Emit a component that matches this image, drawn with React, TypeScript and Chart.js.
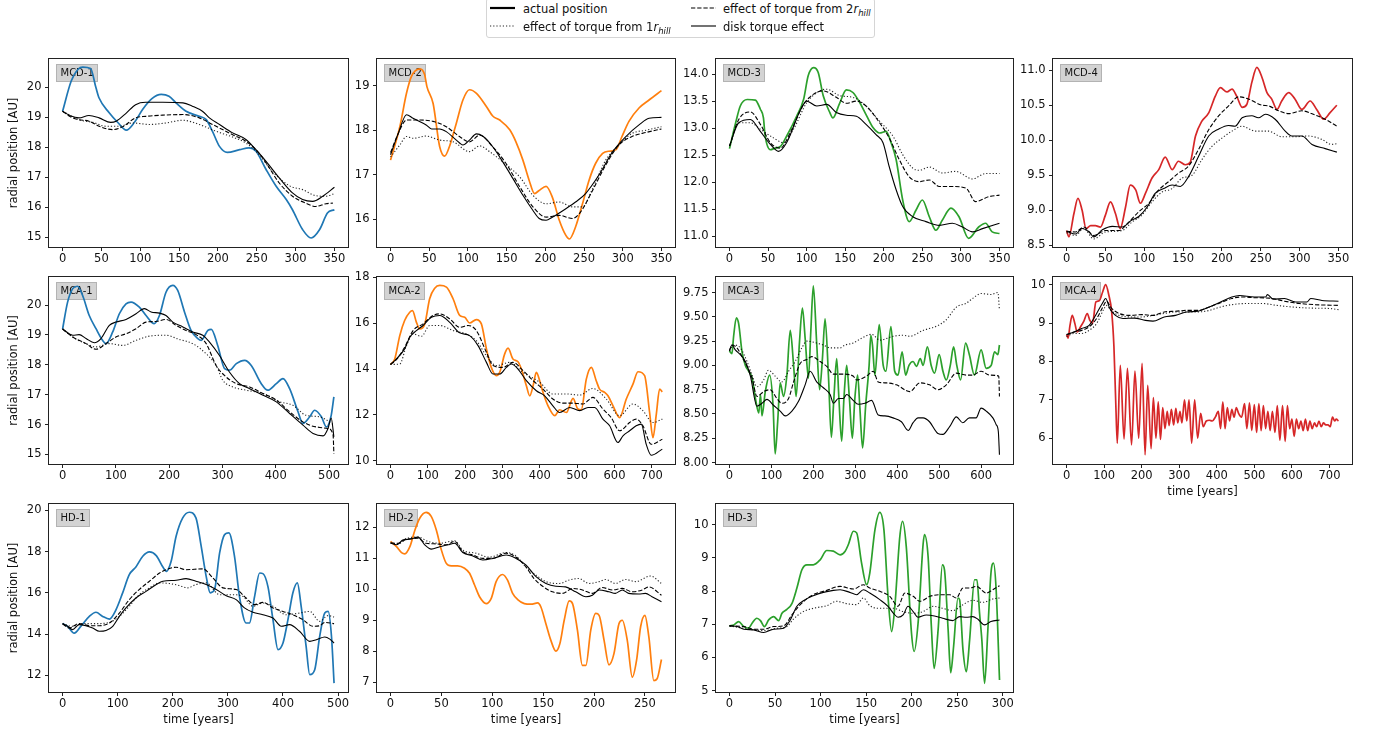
import React, { useEffect, useRef } from "react";
import { Chart, registerables } from "chart.js";
Chart.register(...registerables);

type Pt = [number, number];

const BLUE = "#1f77b4";
const ORANGE = "#ff7f0e";
const GREEN = "#2ca02c";
const RED = "#d62728";

// ---------------- tick labels ----------------
const X_TICKS_350 = [0, 50, 100, 150, 200, 250, 300, 350];
const X_TICKS_500 = [0, 100, 200, 300, 400, 500];
const X_TICKS_600 = [0, 100, 200, 300, 400, 500, 600];
const X_TICKS_700 = [0, 100, 200, 300, 400, 500, 600, 700];
const X_TICKS_250 = [0, 50, 100, 150, 200, 250];
const X_TICKS_300 = [0, 50, 100, 150, 200, 250, 300];

const Y_TICKS_MCD1 = [15, 16, 17, 18, 19, 20];
const Y_TICKS_MCD2 = [16, 17, 18, 19];
const Y_TICKS_MCD3 = [11, 11.5, 12, 12.5, 13, 13.5, 14];
const Y_TICKS_MCD4 = [8.5, 9, 9.5, 10, 10.5, 11];
const Y_TICKS_MCA1 = [15, 16, 17, 18, 19, 20];
const Y_TICKS_MCA2 = [10, 12, 14, 16, 18];
const Y_TICKS_MCA3 = [8, 8.25, 8.5, 8.75, 9, 9.25, 9.5, 9.75];
const Y_TICKS_MCA4 = [6, 7, 8, 9, 10];
const Y_TICKS_HD1 = [12, 14, 16, 18, 20];
const Y_TICKS_HD2 = [7, 8, 9, 10, 11, 12];
const Y_TICKS_HD3 = [5, 6, 7, 8, 9, 10];

// ---------------- MCD-1 ----------------
const MCD1_ACTUAL: Pt[] = [[0,19.2],[11,20.2],[20,20.6],[26,20.67],[36,20.62],[43,19.98],[47,19.64],[60,19.15],[72,18.8],[82,18.57],[93,18.85],[103,19.26],[115,19.62],[127,19.76],[137,19.7],[146,19.48],[159,19.2],[176,19.03],[185,18.92],[193,18.53],[202,18.03],[212,17.83],[228,17.92],[240,17.98],[249,17.87],[262,17.26],[275,16.7],[288,16.26],[296,15.92],[309,15.26],[320,14.98],[331,15.26],[341,15.81],[350,15.92]];
const MCD1_R1: Pt[] = [[0,19.2],[21,18.92],[39,18.83],[56,18.7],[73,18.7],[90,18.81],[112,18.76],[133,18.81],[155,18.9],[176,18.76],[198,18.53],[219,18.34],[236,18.14],[253,17.76],[270,17.2],[292,16.72],[309,16.59],[326,16.39],[339,16.37],[350,16.46]];
const MCD1_R2: Pt[] = [[0,19.2],[10,19.02],[21,18.92],[34,18.87],[47,18.7],[64,18.59],[77,18.68],[94,18.98],[107,19.03],[129,19.07],[155,19.09],[176,18.98],[193,18.76],[219,18.42],[236,18.2],[249,17.92],[262,17.48],[279,16.81],[296,16.37],[313,16.14],[326,16.03],[339,16.12],[348,16.14]];
const MCD1_DISK: Pt[] = [[0,19.2],[10,19.05],[21,18.98],[34,19.06],[47,18.98],[62,18.83],[69,18.87],[82,19.14],[94,19.42],[107,19.5],[129,19.5],[155,19.48],[167,19.37],[180,19.2],[189,18.98],[202,18.76],[219,18.48],[236,18.26],[249,17.92],[262,17.53],[279,16.98],[296,16.48],[309,16.26],[322,16.2],[335,16.37],[350,16.67]];

// ---------------- MCD-2 ----------------
const MCD2_ACTUAL: Pt[] = [[0,17.33],[12,18.08],[20.6,18.83],[27,19.21],[38,19.38],[44,19.25],[47,18.98],[55,18.6],[63.5,17.63],[70,17.42],[76,17.63],[85,18.16],[93.5,18.68],[102,18.91],[111,18.83],[124,18.53],[132,18.32],[141,18.23],[154,18.01],[162,17.74],[171,17.33],[179,16.88],[186,16.58],[192,16.65],[201,16.74],[209,16.5],[218,15.98],[226.5,15.64],[231,15.56],[239,15.83],[248,16.35],[256.5,16.88],[265,17.26],[274,17.48],[282,17.53],[291,17.56],[299,17.86],[308,18.2],[321,18.5],[334,18.68],[350,18.89]];
const MCD2_R1: Pt[] = [[0,17.4],[12,17.67],[20.6,17.86],[29,17.82],[46,17.87],[63.5,17.78],[81,17.74],[102,17.52],[115,17.65],[128,17.52],[145,17.29],[167,16.95],[184,16.54],[201,16.35],[218,16.39],[235,16.28],[248,16.28],[261,16.69],[278,17.33],[295,17.67],[312,17.93],[330,18.0],[350,18.08]];
const MCD2_R2: Pt[] = [[0,17.5],[10,17.93],[20.6,18.23],[38,18.23],[55,18.2],[72,18.08],[89,17.86],[102,17.74],[115,17.89],[132,17.63],[149,17.26],[167,16.73],[184,16.28],[201,16.05],[218,16.09],[235,16.02],[244,16.13],[261,16.65],[278,17.22],[295,17.67],[312,17.86],[330,17.95],[350,18.03]];
const MCD2_DISK: Pt[] = [[0,17.45],[10,17.93],[20.6,18.35],[29,18.27],[46,18.12],[53,18.03],[63.5,18.03],[72,17.97],[85,17.78],[93.5,17.67],[102,17.78],[111,17.92],[119,17.87],[132,17.63],[145,17.29],[158,16.92],[171,16.54],[184,16.2],[192,16.02],[201,15.98],[209,16.05],[226.5,16.24],[239,16.39],[252,16.58],[269,16.99],[287,17.52],[304,17.86],[321,18.12],[334,18.27],[350,18.29]];

// ---------------- MCD-3 ----------------
const MCD3_ACTUAL: Pt[] = [[0,12.62],[8,13.1],[14,13.41],[23,13.53],[33.5,13.52],[40,13.35],[44,13.19],[46,12.88],[53,12.6],[59,12.63],[66,12.66],[74,12.85],[87,13.22],[96,13.53],[102,13.97],[109,14.12],[115,14.03],[121.5,13.6],[130,13.29],[134,13.19],[143,13.47],[151.5,13.71],[160,13.66],[169,13.47],[177,13.25],[186,13.01],[194.5,12.91],[203,12.94],[209.5,12.73],[216,12.42],[224.5,11.67],[233,11.27],[241.7,11.48],[250,11.67],[259,11.36],[267.5,11.11],[276,11.3],[287,11.52],[297.5,11.36],[310,10.96],[323,11.17],[332,11.24],[340.5,11.08],[350,11.05]];
const MCD3_R1: Pt[] = [[0,12.67],[12,13.1],[27,13.1],[40,12.98],[57,12.82],[70,12.73],[83,12.98],[100,13.47],[117,13.69],[126,13.72],[143,13.6],[160,13.57],[177,13.41],[194.5,13.13],[212,12.85],[224.5,12.51],[237.5,12.26],[246,12.22],[259,12.28],[276,12.17],[293,12.2],[315,12.06],[332,12.16],[350,12.16]];
const MCD3_R2: Pt[] = [[0,12.67],[12,13.16],[27,13.3],[40,13.07],[53,12.73],[66,12.63],[78.5,12.91],[96,13.44],[109,13.63],[121.5,13.69],[138.5,13.57],[151.5,13.46],[164.5,13.5],[177,13.41],[194.5,13.1],[207,12.82],[220,12.42],[233,12.1],[246,12.01],[259,12.04],[272,11.92],[289,11.92],[306.5,11.89],[319,11.64],[336,11.73],[350,11.76]];
const MCD3_DISK: Pt[] = [[0,12.67],[12,13.1],[27,13.16],[40,12.94],[53,12.7],[63.5,12.57],[74,12.73],[91.5,13.32],[100,13.5],[113,13.41],[126,13.44],[138.5,13.29],[151.5,13.24],[164.5,13.22],[177,13.07],[190,12.88],[199,12.73],[207,12.29],[216,11.86],[224.5,11.55],[237.5,11.36],[254.6,11.27],[272,11.2],[289,11.24],[302,11.17],[315,11.08],[328,11.14],[350,11.24]];

// ---------------- MCD-4 ----------------
const MCD4_ACTUAL: Pt[] = [[0,8.71],[3,8.62],[9.4,8.95],[14.6,9.17],[20,9.0],[25,8.74],[31,8.78],[37,8.78],[43.7,8.76],[50,8.93],[56.5,9.12],[63,8.95],[69,8.74],[76,9.05],[82,9.36],[89,9.29],[95,9.1],[101.5,9.24],[110,9.46],[118.7,9.58],[127,9.76],[136,9.58],[144,9.7],[153,9.65],[159,9.68],[166,10.06],[174,10.27],[183,10.39],[191.5,10.63],[198,10.75],[206.5,10.69],[213,10.73],[219,10.63],[226,10.47],[232,10.51],[238.6,10.83],[245,11.04],[251.5,10.9],[258,10.68],[264,10.59],[271,10.44],[277,10.56],[286,10.68],[294,10.59],[303,10.44],[313.6,10.56],[322,10.44],[331,10.3],[339,10.39],[348,10.5]];
const MCD4_R1: Pt[] = [[0,8.68],[11.6,8.64],[22,8.74],[35,8.59],[50,8.69],[71.5,8.71],[84,8.83],[97,8.93],[110,9.12],[123,9.26],[136,9.31],[148.7,9.46],[161.5,9.5],[174,9.72],[187,9.91],[200,10.03],[213,10.13],[226,10.2],[243,10.13],[260,10.13],[277,10.05],[294,10.05],[311.6,10.06],[329,10.01],[341,9.94],[348,9.95]];
const MCD4_R2: Pt[] = [[0,8.7],[11.6,8.69],[22,8.76],[35,8.64],[50,8.71],[67,8.71],[80,8.83],[93,8.98],[106,9.1],[118.7,9.29],[131.5,9.41],[144,9.53],[157,9.63],[170,9.87],[183,10.15],[196,10.35],[208.6,10.49],[221.5,10.62],[234,10.59],[251.5,10.5],[260,10.49],[273,10.42],[286,10.38],[303,10.42],[320,10.36],[333,10.3],[348,10.2]];
const MCD4_DISK: Pt[] = [[0,8.7],[11.6,8.66],[20,8.74],[29,8.69],[35,8.62],[46,8.72],[59,8.77],[71.5,8.76],[84,8.86],[93,8.91],[104,9.05],[114,9.24],[125,9.31],[136,9.36],[146.5,9.34],[157,9.48],[170,9.77],[183,10.06],[196,10.16],[208.6,10.21],[217,10.2],[226,10.32],[238.6,10.35],[247,10.32],[256,10.37],[268.5,10.3],[281.5,10.13],[290,10.06],[303,10.06],[316,9.94],[333,9.88],[348,9.83]];

// ---------------- MCA-1 ----------------
const MCA1_ACTUAL: Pt[] = [[0,19.2],[9.4,20.1],[19,20.55],[28,20.63],[37.6,20.32],[50,19.65],[62.7,19.21],[75,18.82],[81.5,18.71],[94,19.1],[106.5,19.71],[119,20.04],[128.4,20.1],[144,19.93],[156.6,19.65],[172,19.38],[181.7,19.65],[194,20.43],[206.8,20.66],[216,20.49],[228.7,19.77],[241,19.15],[253.8,18.88],[260,18.82],[272.6,19.15],[279,19.19],[291,18.65],[304,17.87],[313,17.82],[326,18.04],[341.5,18.15],[354,17.98],[372.8,17.37],[385,17.15],[401,17.37],[413.5,17.54],[426,17.2],[441.7,16.43],[451,16.04],[463.7,16.26],[473,16.48],[485.6,16.26],[495,15.92],[504,16.31],[509,16.93]];
const MCA1_R1: Pt[] = [[0,19.2],[19,18.93],[44,18.71],[62.7,18.6],[87.7,18.71],[112.8,18.65],[137.8,18.82],[163,18.96],[194,18.99],[219,18.85],[244,18.71],[269.4,18.37],[288,17.98],[300.7,17.48],[319.5,17.26],[344.6,17.15],[376,17.04],[407.5,16.76],[432,16.65],[457,16.31],[482,16.26],[501,16.09],[509,15.98]];
const MCA1_R2: Pt[] = [[0,19.2],[19,18.93],[44,18.71],[62.7,18.52],[81.5,18.71],[100,18.93],[119,19.04],[137.8,19.21],[156.6,19.43],[175,19.45],[194,19.52],[213,19.32],[231.8,19.15],[250.6,19.01],[269.4,18.71],[288,17.98],[307,17.59],[326,17.37],[351,17.26],[376,17.04],[401,16.82],[426,16.43],[451,16.09],[476,15.92],[498,15.87],[507.5,15.65],[509,15.03]];
const MCA1_DISK: Pt[] = [[0,19.2],[19,18.99],[31,19.01],[44,18.88],[59.5,18.74],[72,18.88],[87.7,19.32],[100,19.43],[119,19.52],[137.8,19.71],[153.5,19.88],[166,19.77],[181.7,19.73],[194,19.65],[206.8,19.43],[225.6,19.27],[244,19.1],[263,18.99],[275.7,18.76],[294,18.32],[313,17.76],[332,17.37],[351,17.2],[376,16.98],[401,16.76],[426,16.37],[451,15.98],[470,15.7],[488.7,15.62],[498,15.87],[504,16.22],[509,15.59]];

// ---------------- MCA-2 ----------------
const MCA2_ACTUAL: Pt[] = [[0,14.2],[11.6,14.44],[25,15.46],[38,16.12],[51.7,16.48],[59,16.55],[69.6,16.04],[78.5,15.75],[92,15.97],[105,17.07],[118.6,17.53],[132,17.65],[150,17.58],[167.7,17.07],[185.5,16.34],[199,16.26],[212,16.01],[230,16.16],[243.5,15.97],[257,14.88],[270,14.07],[283.7,13.71],[292.6,13.85],[306,14.66],[315,14.91],[328,14.44],[341.6,14.32],[350.6,14.0],[364,13.27],[373,12.83],[382,13.27],[390.7,13.85],[399.6,13.49],[408.5,12.98],[422,12.39],[440,11.96],[453,12.22],[471,12.1],[489,12.72],[502,12.25],[511,12.22],[524.5,13.56],[538,14.07],[551,13.49],[560,13.12],[573.6,12.98],[582.5,12.83],[596,12.39],[613.7,11.88],[631.6,12.69],[649.4,13.34],[662.8,13.88],[680.6,13.71],[694,12.1],[703,11.0],[712,12.03],[720.8,13.12],[728,13.0]];
const MCA2_R1: Pt[] = [[0,14.2],[25,14.22],[42.8,15.02],[60.6,15.53],[83,15.43],[105,15.9],[132,15.9],[167.7,15.68],[203,15.53],[230,15.24],[257,14.58],[283.7,14.15],[319,14.29],[355,13.85],[399.6,13.42],[435,12.91],[471,12.91],[506.7,12.86],[542,13.15],[578,12.69],[613.7,11.96],[649.4,12.47],[676,12.18],[703,11.66],[728,11.81]];
const MCA2_R2: Pt[] = [[0,14.2],[16,14.41],[38,14.95],[60.6,15.68],[87.4,15.97],[114,16.34],[132,16.41],[158.8,16.19],[185.5,15.82],[207.8,15.9],[230,15.68],[257,14.73],[274.7,14.15],[301.5,14.07],[328,14.29],[355,13.93],[382,13.49],[408.5,13.12],[435,12.69],[462,12.51],[489,12.51],[515.6,12.47],[542,12.76],[569,12.25],[591,11.88],[613.7,11.3],[640.5,11.66],[658,11.81],[676,11.52],[698.5,10.71],[728,10.93]];
const MCA2_DISK: Pt[] = [[0,14.2],[16,14.44],[38,14.88],[51.7,15.39],[69.6,15.68],[87.4,15.9],[109.7,16.26],[132,16.34],[158.8,16.04],[185.5,15.58],[212,15.46],[234.6,15.02],[257,14.29],[274.7,13.78],[292.6,13.78],[310.4,14.07],[323.8,14.22],[341.6,14.0],[364,13.49],[390.7,13.05],[413,12.83],[435,12.39],[453,12.1],[480,12.32],[506.7,12.18],[529,12.32],[547,12.32],[569,11.81],[587,11.52],[609,10.79],[622.7,11.08],[640.5,11.3],[658,11.52],[671.7,11.59],[685,10.71],[698.5,10.23],[728,10.5]];

// ---------------- MCA-3 ----------------
const MCA3_ACTUAL: Pt[] = [[0,9.15],[6,9.12],[10,9.3],[16.6,9.49],[22,9.43],[30,9.14],[38,9.0],[46,8.94],[54,8.87],[62,8.66],[70,8.51],[74,8.7],[77.6,8.48],[85.5,8.73],[96,8.9],[104,8.59],[109,8.09],[115,8.42],[121,8.82],[129,8.68],[137,8.9],[145,9.36],[153,9.0],[159,8.68],[167,9.24],[174,9.59],[180.5,9.28],[188.4,8.87],[194,9.35],[200,9.82],[208,9.23],[215,8.75],[221.7,9.07],[228,9.48],[236,8.9],[243,8.26],[249,8.66],[255.7,9.07],[261,8.66],[267.6,8.22],[273,8.66],[279.5,9.0],[286,8.66],[293,8.25],[299,8.66],[305.6,8.9],[311,8.56],[317.5,8.15],[325,8.6],[333,9.0],[337,9.31],[341,9.21],[346.8,8.9],[357,9.42],[366.6,9.0],[373,8.94],[385,9.4],[394,8.94],[402,8.9],[411.7,9.14],[420,8.9],[428,9.0],[437.8,9.04],[445.8,8.99],[455,9.07],[461.6,9.0],[472,9.19],[481,9.0],[489,8.92],[500,9.11],[509,8.94],[517,8.85],[526.5,9.0],[534.4,9.19],[542,9.0],[551,8.85],[563,9.23],[572,9.11],[584,8.9],[600,9.16],[612,8.97],[624,9.0],[632,9.14],[640,9.11],[643.7,9.21]];
const MCA3_R1: Pt[] = [[0,9.15],[10,9.21],[26,9.18],[42,9.04],[54,8.9],[65.7,8.78],[81.5,8.85],[93,8.95],[109,8.89],[125,8.83],[141,8.94],[156.8,9.04],[172.6,9.18],[184.5,9.25],[208,9.23],[224,9.21],[240,9.18],[263.6,9.18],[275.5,9.21],[295,9.23],[315,9.28],[339,9.32],[358.7,9.26],[390,9.3],[414,9.31],[430,9.3],[461.6,9.36],[497,9.41],[517,9.47],[541,9.6],[564.5,9.64],[580,9.69],[600,9.74],[624,9.73],[640,9.75],[643.7,9.57]];
const MCA3_R2: Pt[] = [[0,9.15],[6,9.21],[18,9.18],[30,9.09],[42,8.99],[54,8.87],[65.7,8.68],[81.5,8.73],[97,8.75],[113,8.66],[125,8.61],[141,8.66],[153,8.83],[168.6,9.02],[184.5,9.06],[196.4,9.09],[216,9.04],[232,8.99],[248,8.91],[271.6,8.91],[295,8.89],[303,8.85],[327,8.89],[343,8.94],[354.7,8.83],[374.6,8.82],[398,8.8],[430,8.73],[454,8.82],[477,8.8],[497,8.75],[517,8.8],[541,8.92],[564.5,8.9],[580,8.9],[600,8.94],[620,8.9],[642,8.89],[643.7,8.68]];
const MCA3_DISK: Pt[] = [[0,9.15],[6,9.21],[14,9.16],[26,9.11],[38,9.04],[50,8.89],[65.7,8.58],[77.6,8.61],[89.5,8.65],[105,8.59],[121,8.53],[133,8.48],[149,8.53],[164.7,8.63],[180.5,8.8],[192.4,8.94],[208,8.83],[224,8.77],[240,8.7],[248,8.61],[259.7,8.66],[271.6,8.66],[279.5,8.7],[295,8.64],[307,8.6],[323,8.61],[339,8.64],[354.7,8.49],[370.5,8.48],[390,8.46],[410,8.42],[426,8.33],[437.8,8.41],[449.7,8.46],[461.6,8.46],[477,8.42],[497,8.3],[509,8.29],[525,8.37],[541,8.47],[556,8.41],[572,8.46],[588,8.46],[600,8.56],[612,8.53],[628,8.46],[636,8.39],[641,8.32],[643.7,8.08]];

// ---------------- MCA-4 ----------------
const MCA4_ACTUAL: Pt[] = [[0,8.7],[4,8.61],[9,8.94],[15,9.2],[22,8.99],[28,8.77],[37,8.9],[46,9.05],[55,9.25],[62,9.07],[69,8.99],[78,9.55],[87,9.58],[96,9.81],[104,10.0],[112,9.75],[120,9.3],[126,8.4],[131,6.9],[135,5.87],[143,7.9],[153,5.98],[162,7.82],[173,5.83],[182,7.75],[192,6.0],[201,7.95],[209,5.57],[216,7.38],[225,5.73],[231,7.06],[238,6.0],[244,6.95],[250,5.97],[256,6.8],[262,6.25],[268,6.7],[273,6.33],[279,6.75],[285,6.35],[291,6.78],[296,6.4],[302,6.7],[307,6.4],[314,7.0],[320,6.45],[326,7.0],[333,5.87],[341,7.0],[349,6.0],[357,6.65],[364,6.3],[372,6.45],[380,6.47],[388,6.45],[396,6.55],[404,6.7],[410,6.25],[416,6.95],[422,6.25],[428,6.8],[434,6.45],[440,6.75],[446,6.55],[452,6.8],[458,6.65],[466,6.55],[474,6.9],[480,6.25],[487,6.92],[493,6.2],[500,6.88],[506,6.15],[512,6.9],[518,6.2],[524,6.85],[530,6.25],[536,6.7],[542,6.2],[548,6.7],[555,6.15],[561,6.85],[568,5.95],[575,6.85],[582,5.92],[588,6.85],[594,6.25],[600,6.5],[606,6.05],[612,6.5],[618,6.25],[624,6.45],[630,6.2],[636,6.5],[642,6.2],[648,6.45],[654,6.25],[660,6.4],[666,6.3],[672,6.45],[678,6.3],[684,6.4],[690,6.35],[696,6.35],[702,6.3],[708,6.55],[714,6.45],[718,6.5],[724,6.45]];
const MCA4_R1: Pt[] = [[0,8.65],[20,8.73],[40,8.73],[60,8.81],[80,8.99],[100,9.38],[106,9.46],[120,9.31],[140,9.2],[170,9.16],[200,9.16],[230,9.2],[260,9.25],[290,9.29],[320,9.29],[350,9.29],[380,9.33],[410,9.42],[440,9.48],[480,9.51],[520,9.51],[560,9.46],[600,9.42],[650,9.39],[700,9.38],[724,9.35]];
const MCA4_R2: Pt[] = [[0,8.7],[20,8.77],[40,8.81],[60,8.9],[80,9.12],[100,9.48],[106,9.57],[120,9.38],[140,9.25],[170,9.2],[200,9.22],[230,9.2],[260,9.29],[290,9.31],[320,9.33],[350,9.33],[380,9.42],[410,9.53],[440,9.64],[470,9.68],[500,9.66],[540,9.65],[580,9.57],[620,9.51],[660,9.48],[724,9.46]];
const MCA4_DISK: Pt[] = [[0,8.7],[20,8.77],[40,8.86],[60,8.94],[80,9.25],[95,9.51],[104,9.64],[115,9.38],[130,9.2],[150,9.12],[180,9.13],[210,9.07],[230,9.05],[260,9.16],[290,9.2],[320,9.29],[350,9.31],[380,9.42],[410,9.55],[440,9.68],[460,9.72],[500,9.68],[530,9.68],[535,9.74],[550,9.62],[580,9.64],[610,9.55],[640,9.55],[650,9.64],[680,9.59],[724,9.57]];

// ---------------- HD-1 ----------------
const HD1_ACTUAL: Pt[] = [[0,14.51],[9,14.38],[21,14.05],[33,14.38],[48.5,14.86],[60.6,15.06],[72.7,14.86],[85,14.73],[97,15.19],[109,16.0],[121,16.88],[133,17.25],[145.5,17.77],[157.6,17.98],[170,17.8],[182,17.25],[188,17.04],[197,17.53],[206,18.74],[218,19.63],[230,19.9],[242,19.63],[251.5,18.26],[260.6,16.8],[268,16.0],[275.8,16.16],[285,17.93],[294,18.82],[301.8,18.9],[312,17.77],[321,15.83],[333,14.54],[339,14.54],[348.5,15.83],[357.6,16.96],[363.6,16.93],[372.7,16.3],[381.8,14.7],[391,13.25],[400,13.57],[409,14.7],[418,16.0],[426,16.48],[433,15.35],[442,13.41],[448.5,12.04],[457.6,12.28],[466.7,13.9],[475.8,15.02],[482,15.1],[488,13.9],[492.7,11.63]];
const HD1_R1: Pt[] = [[0,14.5],[18,14.38],[36,14.51],[60.6,14.51],[85,14.57],[103,14.86],[121,15.35],[139,15.91],[157.6,16.24],[176,16.48],[194,16.45],[212,16.35],[227,16.24],[242,16.4],[260.6,16.48],[285,15.91],[309,15.91],[327,15.83],[345.5,15.35],[363.6,15.51],[381.8,15.35],[406,14.94],[430,15.02],[448.5,15.1],[466.7,14.62],[482,14.9],[492.7,14.83]];
const HD1_R2: Pt[] = [[0,14.5],[12,14.3],[30,14.51],[48.5,14.41],[66.7,14.41],[85,14.54],[103,15.02],[121,15.67],[139,16.16],[157.6,16.56],[176,16.96],[188,17.12],[206,17.24],[224,17.12],[254.5,17.16],[272.7,16.72],[291,16.24],[315,16.16],[333,15.75],[348.5,15.43],[363.6,15.54],[381.8,15.27],[400,15.1],[418,14.94],[436,14.7],[454.5,14.38],[466.7,14.41],[475.8,14.57],[492.7,14.51]];
const HD1_DISK: Pt[] = [[0,14.5],[9,14.38],[18,14.22],[30,14.46],[42,14.41],[54.5,14.3],[66.7,14.14],[78.8,14.18],[91,14.38],[103,14.86],[115,15.27],[133,15.75],[151.5,16.07],[170,16.4],[182,16.56],[206,16.61],[224,16.69],[242,16.56],[260.6,16.4],[278.8,16.16],[297,15.86],[315,15.67],[330,15.27],[345.5,15.06],[363.6,14.94],[381.8,14.78],[397,14.38],[412,14.46],[430,14.14],[448.5,13.65],[460.6,13.73],[475.8,13.86],[485,13.76],[492.7,13.57]];

// ---------------- HD-2 ----------------
const HD2_ACTUAL: Pt[] = [[0,11.55],[5.9,11.38],[10.8,11.19],[14,11.15],[19,11.38],[24,11.92],[28.7,12.3],[35,12.49],[40,12.36],[45,11.92],[50,11.27],[54.8,10.84],[59.7,10.76],[66,10.76],[72.8,10.68],[77.7,10.52],[82.6,10.14],[87.5,9.76],[94,9.54],[99,9.71],[103.8,10.25],[110,10.48],[115,10.3],[120,9.87],[125,9.67],[131.5,9.54],[138,9.52],[144.6,9.56],[147.8,9.43],[152.7,8.89],[157.6,8.35],[162.5,8.0],[166.4,8.24],[170.7,9.0],[175.6,9.63],[178.9,9.54],[183.7,8.68],[188.6,7.54],[192,7.54],[196.8,8.68],[201.7,9.22],[205,9.16],[209.9,8.35],[214.7,7.56],[219.6,7.92],[224.5,8.89],[227.8,9.0],[232.7,8.35],[237.6,7.16],[241.8,7.7],[245.8,8.79],[250,9.16],[253.9,8.46],[258.8,7.05],[262,7.11],[266.3,7.73]];
const HD2_R1: Pt[] = [[0,11.5],[7.5,11.47],[15.7,11.65],[27,11.69],[37,11.55],[48.3,11.49],[63,11.57],[71,11.27],[84,11.17],[97,11.04],[113.6,11.19],[123.4,11.08],[133,10.73],[143,10.46],[152.7,10.25],[166,10.19],[175.6,10.3],[185,10.35],[195,10.19],[205,10.25],[211.5,10.32],[221,10.19],[231,10.32],[241,10.25],[255.5,10.43],[266.3,10.19]];
const HD2_R2: Pt[] = [[0,11.5],[7.5,11.49],[15.7,11.62],[27,11.65],[35,11.49],[45,11.47],[54.8,11.44],[63,11.55],[71,11.22],[81,11.11],[90.7,11.0],[100.5,11.0],[113.6,11.17],[123.4,11.04],[133,10.73],[141,10.35],[149.5,10.1],[159,9.92],[169,9.87],[179,10.03],[188.6,9.98],[198.4,9.87],[208,10.06],[218,9.98],[227.8,10.03],[237.6,9.92],[247.4,9.98],[254,10.08],[266.3,9.81]];
const HD2_DISK: Pt[] = [[0,11.5],[5.9,11.44],[12.4,11.6],[19,11.62],[27,11.69],[33.6,11.44],[40,11.3],[48.3,11.38],[56.5,11.44],[63,11.49],[71,11.19],[81,11.08],[90.7,10.95],[100.5,11.0],[113.6,11.11],[123.4,11.0],[133,10.79],[143,10.41],[152.7,10.19],[162.5,10.1],[172,10.08],[182,9.92],[192,9.76],[198.4,9.81],[205,9.98],[214.7,9.92],[221,9.87],[227.8,9.98],[234,9.87],[244,9.85],[250.6,9.87],[257,9.76],[266.3,9.6]];

// ---------------- HD-3 ----------------
const HD3_ACTUAL: Pt[] = [[0,6.95],[4.7,6.98],[10,7.08],[15.7,6.93],[21,6.88],[24.8,7.03],[30,7.18],[34,7.11],[38.3,6.93],[43,7.13],[48.5,7.23],[54,7.11],[57.6,7.33],[63,7.45],[68.5,7.62],[74,8.09],[79.5,8.64],[85,8.79],[92,8.79],[99.5,8.94],[106.8,9.22],[114,9.2],[121.4,9.09],[127,9.2],[130.5,9.4],[136,9.8],[139.6,9.75],[145,8.84],[150.6,8.19],[154,8.54],[159.7,9.85],[165,10.37],[169.5,9.85],[174,7.84],[178,6.78],[181.5,7.54],[187,9.65],[190,10.1],[194,9.35],[199.8,6.73],[202.7,6.18],[207,7.03],[212.5,9.4],[214,9.7],[218,9.04],[221.6,6.93],[224.6,5.67],[229,6.83],[233.7,8.79],[236,8.64],[240,6.83],[242.8,5.54],[246,6.33],[250.8,7.79],[252.6,7.74],[256.3,6.23],[260,5.57],[263.6,6.53],[269,8.34],[271.6,8.34],[274.5,7.33],[277,6.53],[280,5.22],[283.6,6.83],[287,8.54],[289.8,8.84],[292.7,8.04],[296.4,5.32]];
const HD3_R1: Pt[] = [[0,6.95],[15.7,6.88],[26.6,6.83],[37.5,6.81],[52,6.88],[63,6.93],[70,7.15],[81,7.38],[92,7.48],[106.8,7.56],[117.8,7.69],[128.7,7.62],[139.6,7.59],[147,7.79],[154,7.56],[165,7.48],[180,7.48],[190.6,7.38],[201.6,7.33],[212.5,7.38],[223.5,7.54],[234,7.48],[245,7.41],[256.3,7.59],[267,7.72],[278,7.66],[289,7.76],[296.4,7.79]];
const HD3_R2: Pt[] = [[0,6.95],[15.7,6.93],[26.6,6.85],[37.5,6.85],[48.5,6.93],[59.4,6.95],[68.5,7.28],[77.7,7.59],[92,7.89],[106.8,8.02],[121.4,8.14],[136,8.06],[147,8.19],[154,8.09],[165,7.99],[176,7.84],[185,7.54],[192.5,7.94],[201.6,7.84],[209,7.69],[220,7.84],[230.8,7.89],[241.7,7.89],[249,7.79],[256.3,8.09],[263.6,8.09],[271,8.14],[281.8,7.94],[289,8.04],[296.4,8.16]];
const HD3_DISK: Pt[] = [[0,6.95],[8.4,6.93],[15.7,6.85],[26.6,6.83],[37.5,6.75],[48.5,6.85],[59.4,6.88],[66.7,7.13],[74,7.54],[83,7.74],[92,7.86],[103,7.96],[114,8.02],[121.4,8.04],[132,7.96],[139.6,7.89],[147,8.04],[154,7.94],[165,7.74],[174,7.54],[180,7.33],[185,7.21],[190.6,7.28],[196,7.54],[201.6,7.38],[207,7.21],[216,7.28],[225,7.25],[234,7.18],[245,7.11],[252.6,7.23],[260,7.21],[267,7.23],[272.7,7.15],[280,6.98],[287,7.08],[296.4,7.13]];

// ---------------- layout (box geometry in page pixels) ----------------
const COLS = [
  { l: 49, w: 299 },
  { l: 377, w: 298 },
  { l: 716, w: 297 },
  { l: 1053, w: 299 },
];
const ROWS = [
  { t: 59, h: 188 },
  { t: 277, h: 187 },
  { t: 504, h: 188 },
];
const PADL = 42;
const PADT = 8;
const PADR = 14;

const FONT = "'DejaVu Sans', sans-serif";
const FS = 11.5;
const LABEL_FS = 10;
const TXT = "#111111";

interface Panel {
  name: string;
  col: number;
  row: number;
  color: string;
  xr: [number, number];
  xt: number[];
  yr: [number, number];
  yt: number[];
  yd: number;
  xTitle: boolean;
  yTitle: boolean;
  actual: Pt[];
  r1: Pt[];
  r2: Pt[];
  disk: Pt[];
}

const PANELS: Panel[] = [
  { name: "MCD-1", col: 0, row: 0, color: BLUE, xr: [-17.5, 367.5], xt: X_TICKS_350, yr: [14.68, 20.94], yt: Y_TICKS_MCD1, yd: 0, xTitle: false, yTitle: true, actual: MCD1_ACTUAL, r1: MCD1_R1, r2: MCD1_R2, disk: MCD1_DISK },
  { name: "MCD-2", col: 1, row: 0, color: ORANGE, xr: [-17.5, 367.5], xt: X_TICKS_350, yr: [15.38, 19.6], yt: Y_TICKS_MCD2, yd: 0, xTitle: false, yTitle: false, actual: MCD2_ACTUAL, r1: MCD2_R1, r2: MCD2_R2, disk: MCD2_DISK },
  { name: "MCD-3", col: 2, row: 0, color: GREEN, xr: [-17.5, 367.5], xt: X_TICKS_350, yr: [10.8, 14.28], yt: Y_TICKS_MCD3, yd: 1, xTitle: false, yTitle: false, actual: MCD3_ACTUAL, r1: MCD3_R1, r2: MCD3_R2, disk: MCD3_DISK },
  { name: "MCD-4", col: 3, row: 0, color: RED, xr: [-17.5, 367.5], xt: X_TICKS_350, yr: [8.475, 11.16], yt: Y_TICKS_MCD4, yd: 1, xTitle: false, yTitle: false, actual: MCD4_ACTUAL, r1: MCD4_R1, r2: MCD4_R2, disk: MCD4_DISK },
  { name: "MCA-1", col: 0, row: 1, color: BLUE, xr: [-25.5, 535.5], xt: X_TICKS_500, yr: [14.68, 20.94], yt: Y_TICKS_MCA1, yd: 0, xTitle: false, yTitle: true, actual: MCA1_ACTUAL, r1: MCA1_R1, r2: MCA1_R2, disk: MCA1_DISK },
  { name: "MCA-2", col: 1, row: 1, color: ORANGE, xr: [-36, 762], xt: X_TICKS_700, yr: [9.85, 18.02], yt: Y_TICKS_MCA2, yd: 0, xTitle: false, yTitle: false, actual: MCA2_ACTUAL, r1: MCA2_R1, r2: MCA2_R2, disk: MCA2_DISK },
  { name: "MCA-3", col: 2, row: 1, color: GREEN, xr: [-32, 676], xt: X_TICKS_600, yr: [7.985, 9.91], yt: Y_TICKS_MCA3, yd: 2, xTitle: false, yTitle: false, actual: MCA3_ACTUAL, r1: MCA3_R1, r2: MCA3_R2, disk: MCA3_DISK },
  { name: "MCA-4", col: 3, row: 1, color: RED, xr: [-36.2, 760], xt: X_TICKS_700, yr: [5.33, 10.2], yt: Y_TICKS_MCA4, yd: 0, xTitle: true, yTitle: false, actual: MCA4_ACTUAL, r1: MCA4_R1, r2: MCA4_R2, disk: MCA4_DISK },
  { name: "HD-1", col: 0, row: 2, color: BLUE, xr: [-24.7, 518], xt: X_TICKS_500, yr: [11.2, 20.3], yt: Y_TICKS_HD1, yd: 0, xTitle: true, yTitle: true, actual: HD1_ACTUAL, r1: HD1_R1, r2: HD1_R2, disk: HD1_DISK },
  { name: "HD-2", col: 1, row: 2, color: ORANGE, xr: [-13.3, 279.6], xt: X_TICKS_250, yr: [6.68, 12.76], yt: Y_TICKS_HD2, yd: 0, xTitle: true, yTitle: false, actual: HD2_ACTUAL, r1: HD2_R1, r2: HD2_R2, disk: HD2_DISK },
  { name: "HD-3", col: 2, row: 2, color: GREEN, xr: [-14.8, 311.2], xt: X_TICKS_300, yr: [4.96, 10.62], yt: Y_TICKS_HD3, yd: 0, xTitle: true, yTitle: false, actual: HD3_ACTUAL, r1: HD3_R1, r2: HD3_R2, disk: HD3_DISK },
];

const toXY = (pts: Pt[]) => pts.map(([x, y]) => ({ x, y }));

const framePlugin = {
  id: "panelFrame",
  beforeDatasetsDraw(chart: any, _args: any, opts: any) {
    const { ctx, chartArea } = chart;
    const label: string = opts.label || "";
    ctx.save();
    ctx.font = `${LABEL_FS}px ${FONT}`;
    const tw = ctx.measureText(label).width;
    const bx = Math.round(chartArea.left + 7) + 0.5;
    const by = Math.round(chartArea.top + 5) + 0.5;
    const bw = Math.round(tw + 8);
    const bh = 17;
    ctx.fillStyle = "#d3d3d3";
    ctx.fillRect(bx, by, bw, bh);
    ctx.strokeStyle = "#b3b3b3";
    ctx.lineWidth = 1;
    ctx.strokeRect(bx, by, bw, bh);
    ctx.fillStyle = TXT;
    ctx.textBaseline = "middle";
    ctx.textAlign = "left";
    ctx.fillText(label, bx + 4, by + bh / 2 + 0.5);
    ctx.restore();
  },
  afterDraw(chart: any) {
    const { ctx, chartArea } = chart;
    ctx.save();
    ctx.strokeStyle = "#222222";
    ctx.lineWidth = 1;
    ctx.strokeRect(
      chartArea.left - 0.5,
      chartArea.top - 0.5,
      chartArea.right - chartArea.left + 1,
      chartArea.bottom - chartArea.top + 1
    );
    ctx.restore();
  },
};

function PanelChart({ p }: { p: Panel }) {
  const ref = useRef<HTMLCanvasElement>(null);
  const col = COLS[p.col];
  const row = ROWS[p.row];
  const padB = p.xTitle ? 35 : 30;
  const cw = PADL + col.w + PADR;
  const chh = PADT + row.h + padB;

  useEffect(() => {
    const font = { family: FONT, size: FS };
    const gridCfg = {
      drawOnChartArea: false,
      drawTicks: true,
      tickLength: 4,
      color: "#222222",
      lineWidth: 1,
    };
    const chart = new Chart(ref.current as HTMLCanvasElement, {
      type: "line",
      data: {
        datasets: [
          {
            label: "actual position",
            data: toXY(p.actual),
            borderColor: p.color,
            borderWidth: 1.7,
            pointRadius: 0,
            cubicInterpolationMode: "monotone",
            fill: false,
            order: 4,
          },
          {
            label: "effect of torque from 1r_hill",
            data: toXY(p.r1),
            borderColor: "rgba(0,0,0,0.85)",
            borderWidth: 1.1,
            borderDash: [1.2, 2],
            pointRadius: 0,
            cubicInterpolationMode: "monotone",
            fill: false,
            order: 3,
          },
          {
            label: "effect of torque from 2r_hill",
            data: toXY(p.r2),
            borderColor: "#000000",
            borderWidth: 1.1,
            borderDash: [4.3, 1.9],
            pointRadius: 0,
            cubicInterpolationMode: "monotone",
            fill: false,
            order: 2,
          },
          {
            label: "disk torque effect",
            data: toXY(p.disk),
            borderColor: "#000000",
            borderWidth: 1.1,
            pointRadius: 0,
            cubicInterpolationMode: "monotone",
            fill: false,
            order: 1,
          },
        ],
      },
      options: {
        responsive: false,
        animation: false,
        events: [],
        layout: { padding: { top: PADT, right: PADR, left: 0, bottom: 0 } },
        plugins: {
          legend: { display: false },
          tooltip: { enabled: false },
          panelFrame: { label: p.name },
        } as any,
        scales: {
          x: {
            type: "linear",
            min: p.xr[0],
            max: p.xr[1],
            afterBuildTicks: (s: any) => {
              s.ticks = p.xt.map((v) => ({ value: v }));
            },
            afterFit: (s: any) => {
              s.height = padB;
              s.paddingLeft = 0;
              s.paddingRight = 0;
            },
            grid: gridCfg,
            border: { display: false },
            ticks: {
              font,
              color: TXT,
              padding: 1.5,
              maxRotation: 0,
              autoSkip: false,
              callback: (v: any) => String(v),
            },
            title: {
              display: p.xTitle,
              text: "time [years]",
              font,
              color: TXT,
              padding: 0,
            },
          },
          y: {
            type: "linear",
            min: p.yr[0],
            max: p.yr[1],
            afterBuildTicks: (s: any) => {
              s.ticks = p.yt.map((v) => ({ value: v }));
            },
            afterFit: (s: any) => {
              s.width = PADL;
              s.paddingTop = 0;
              s.paddingBottom = 0;
            },
            grid: gridCfg,
            border: { display: false },
            ticks: {
              font,
              color: TXT,
              padding: 3.5,
              autoSkip: false,
              callback: (v: any) => Number(v).toFixed(p.yd),
            },
            title: {
              display: p.yTitle,
              text: "radial position [AU]",
              font,
              color: TXT,
              padding: 0,
            },
          },
        },
      } as any,
      plugins: [framePlugin],
    });
    return () => chart.destroy();
  }, []);

  return (
    <canvas
      ref={ref}
      width={cw}
      height={chh}
      style={{
        position: "absolute",
        left: col.l - PADL,
        top: row.t - PADT,
        width: cw,
        height: chh,
      }}
    />
  );
}

function LegendSample({ x, y, width, dash, color }: { x: number; y: number; width: number; dash?: string; color: string }) {
  return (
    <svg
      style={{ position: "absolute", left: x, top: y - 3 }}
      width={25}
      height={6}
    >
      <line x1={0} y1={3} x2={25} y2={3} stroke={color} strokeWidth={width} strokeDasharray={dash} />
    </svg>
  );
}

function Rhill({ n }: { n: string }) {
  return (
    <>
      {n}
      <span style={{ fontStyle: "italic" }}>r</span>
      <span style={{ fontStyle: "italic", fontSize: 8.5, position: "relative", top: 3 }}>hill</span>
    </>
  );
}

function Legend() {
  const txt: React.CSSProperties = {
    position: "absolute",
    fontFamily: FONT,
    fontSize: FS,
    color: TXT,
    lineHeight: "14px",
    whiteSpace: "nowrap",
  };
  return (
    <>
      <div
        style={{
          position: "absolute",
          left: 486,
          top: -2,
          width: 389,
          height: 40,
          border: "1px solid #d5d5d5",
          borderRadius: 3,
          boxSizing: "border-box",
          background: "#ffffff",
        }}
      />
      <LegendSample x={490} y={8} width={2.2} color="#000" />
      <div style={{ ...txt, left: 523, top: 2 }}>actual position</div>
      <LegendSample x={490} y={26} width={1.1} dash="1.2 2" color="rgba(0,0,0,0.85)" />
      <div style={{ ...txt, left: 523, top: 20 }}>
        effect of torque from <Rhill n="1" />
      </div>
      <LegendSample x={691} y={8} width={1.1} dash="4.3 1.9" color="#000" />
      <div style={{ ...txt, left: 723, top: 2 }}>
        effect of torque from <Rhill n="2" />
      </div>
      <LegendSample x={691} y={26} width={1.1} color="#000" />
      <div style={{ ...txt, left: 723, top: 20 }}>disk torque effect</div>
    </>
  );
}

export default function App() {
  return (
    <div
      style={{
        position: "absolute",
        left: 0,
        top: 0,
        width: 1373,
        height: 733,
        background: "#ffffff",
        overflow: "hidden",
      }}
    >
      {PANELS.map((p) => (
        <PanelChart key={p.name} p={p} />
      ))}
      <Legend />
    </div>
  );
}
